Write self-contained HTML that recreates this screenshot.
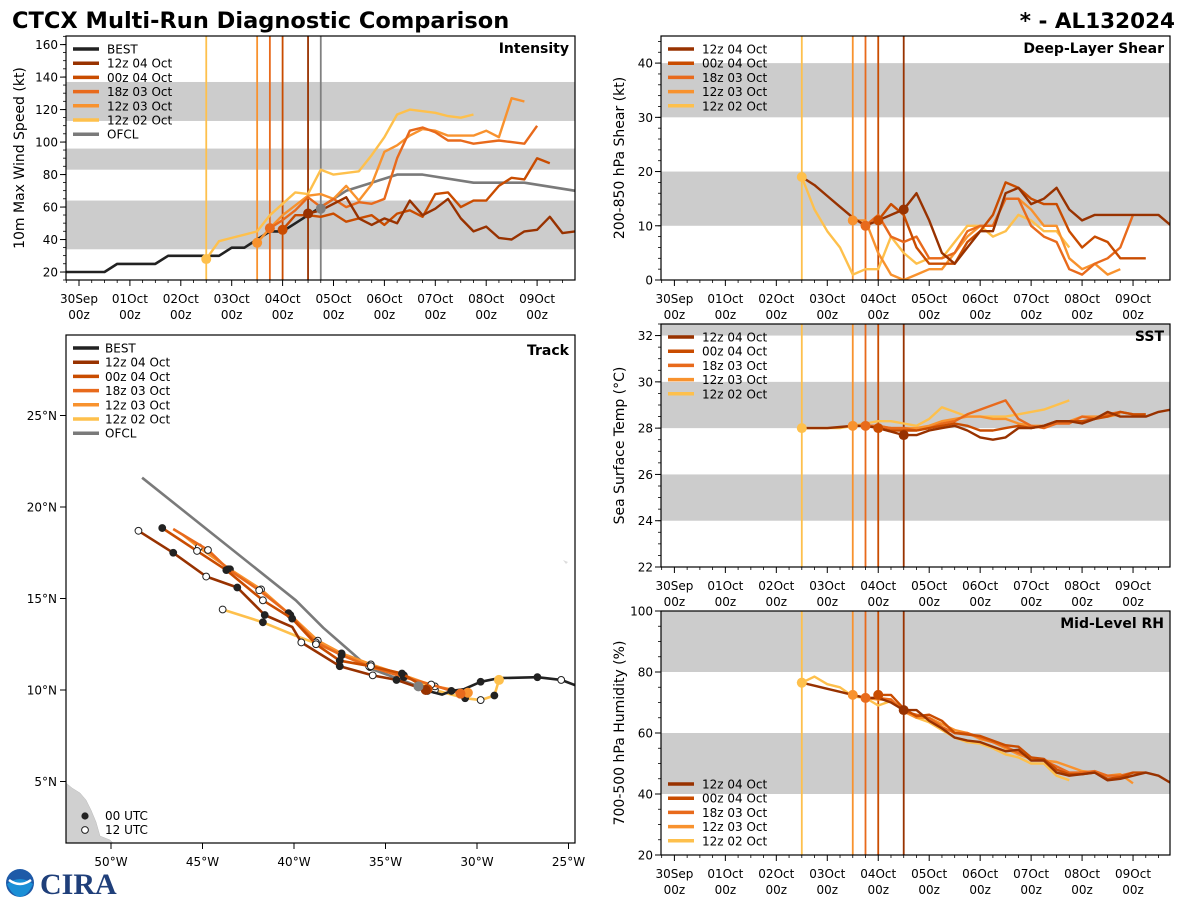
<!DOCTYPE html>
<html><head><meta charset="utf-8">
<style>
html,body{margin:0;padding:0;background:#fff;}
svg{display:block;font-family:"DejaVu Sans","Liberation Sans",sans-serif;}
</style></head>
<body>
<svg id="fig" width="1200" height="900" viewBox="0 0 1200 900" xmlns="http://www.w3.org/2000/svg">
<text x="12" y="28" font-size="22.5" font-weight="bold">CTCX Multi-Run Diagnostic Comparison</text>
<text x="1175" y="28" font-size="21.5" font-weight="bold" text-anchor="end">* - AL132024</text>
<g>
<circle cx="20" cy="883" r="14" fill="#1e5aa8"/>
<path d="M7,884 Q20,874 33,884 Q28,896 20,897 Q12,896 7,884Z" fill="#1a8fd6"/>
<path d="M9,880 Q20,888 31,880" stroke="#fff" stroke-width="2.5" fill="none"/>
</g>
<text x="40" y="894" font-size="30" font-weight="bold" font-family="Liberation Serif,serif" fill="#1f3f7a">CIRA</text>
<g id="plots"></g>
</svg>
<script>
// ---------- shared data ----------
const runLabels = ['12z 04 Oct','00z 04 Oct','18z 03 Oct','12z 03 Oct','12z 02 Oct'];
const runColors = ['#983200','#c94c00','#e86a1c','#f8922e','#fec04c'];
const runInit = [4.5, 4.0, 3.75, 3.5, 2.5];
const dayLabels = ['30Sep','01Oct','02Oct','03Oct','04Oct','05Oct','06Oct','07Oct','08Oct','09Oct'];

// Intensity (kt), 6-hourly from start
const bestStart = -0.25;
const bestIntensity = [20,20,20,20,25,25,25,25,30,30,30,30,30,35,35,40,45,45,50,55,60];
const ofclTimes = [4.75,5.25,5.75,6.25,6.75,7.75,8.75,9.75];
const ofclIntensity = [60,70,75,80,80,75,75,70];
const intStart = [4.5,4.0,3.75,3.5,2.5];
const int12z04 = [56,58,62,66,53,49,53,50,64,55,59,65,53,45,48,41,40,45,46,54,44,45];
const int00z04 = [46,55,55,54,56,51,53,55,49,56,58,54,68,69,60,64,64,73,78,77,90,87];
const int18z03 = [47,52,58,66,60,65,60,63,62,65,90,107,109,106,101,101,99,100,101,100,99,110];
const int12z03 = [38,47,55,61,67,68,65,73,64,74,94,98,104,108,107,104,104,104,107,103,127,125];
const int12z02 = [28,39,41,43,45,55,62,69,68,83,80,81,82,92,103,117,120,119,118,116,115,117];

// Shear (kt)
const shrStart = [2.5,4.0,3.75,3.5,2.5];
const shr12z04 = [19,17.5,15.5,13.5,11.5,10,11,12,13,16,11,5,3,6,9,9,16,17,14,15,17,13,11,12,12,12,12,12,12,10];
const shr00z04 = [11,14,12,6,3,3,3,7,9,12,18,17,15,14,14,9,6,8,7,4,4,4];
const shr18z03 = [10,12,8,7,8,4,4,5,9,10,10,15,15,10,8,7,2,1,3,4,6,12];
const shr12z03 = [11,11,5,1,0,1,2,2,5,8,10,10,15,15,13,10,10,4,2,3,1,2];
const shr12z02 = [19,13,9,6,1,2,2,8,5,3,4,4,7,10,10,8,9,12,11,9,9,6];

// SST (C)
const sstStart = [2.5,4.0,3.75,3.5,2.5];
const sst12z04 = [28,28,28,28.05,28.1,28.1,28.0,27.85,27.7,27.7,27.9,28.0,28.1,27.9,27.6,27.5,27.6,28.0,28.0,28.1,28.3,28.3,28.2,28.4,28.7,28.5,28.5,28.5,28.7,28.8];
const sst00z04 = [28.0,27.9,27.9,27.9,28.0,28.1,28.2,28.1,27.9,27.9,28.0,28.1,28.0,28.1,28.3,28.3,28.3,28.4,28.5,28.7,28.6,28.6];
const sst18z03 = [28.1,28.1,28.0,28.0,27.9,28.0,28.2,28.3,28.6,28.8,29.0,29.2,28.4,28.1,28.0,28.2,28.2,28.5,28.4,28.6,28.7,28.6];
const sst12z03 = [28.1,28.1,28.1,28.0,28.0,28.0,28.1,28.3,28.4,28.5,28.5,28.4,28.4,28.2,28.1,28.1,28.2,28.3,28.5,28.5,28.5,28.6];
const sst12z02 = [28,28,28,28,28.1,28.2,28.3,28.3,28.2,28.1,28.4,28.9,28.7,28.5,28.5,28.5,28.5,28.6,28.7,28.8,29.0,29.2];

// Mid-level RH (%)
const rhStart = [2.5,4.0,3.75,3.5,2.5];
const rh12z04 = [76.5,75.5,74.5,73.5,72.5,71.5,71.5,70,67.5,67.5,64,61.5,58.5,57.5,57,55.5,54,54.5,51,51,47,46,46.5,47,44.5,45,46,47,46,43.5];
const rh00z04 = [72.5,72.5,68,65.5,66,64,60,59.5,59,57.5,56,55.5,52,51.5,48,46.5,46.5,47,45,45.5,47,47];
const rh18z03 = [71.5,71.5,71,67,66,65,62,60,60,58.5,57,55.5,53.5,52,51,49,47,47,47.5,46,46,47];
const rh12z03 = [72.5,71.5,71,71,67,65,65,63,61,60,58,57,55,53,51.5,51,50.5,49,47.5,47,46,46.5,43.5];
const rh12z02 = [76.5,78.5,76,75,72,71.5,69,70.5,68,65,63.5,61,58.5,57,56.5,55,53,52,50,50,46,44.5];

// Track [lon, lat] (west negative); markers: f=00 UTC, o=12 UTC, n=none
const bestLon = [-24.6,-25.4,-26.7,-28.8,-29.8,-30.7,-31.4,-31.9,-32.7,-33.3];
const bestLat = [10.25,10.55,10.7,10.65,10.45,10.05,9.95,9.75,9.95,10.2];
const bestMk = ['n','o','f','n','f','n','f','n','o','n'];
const ofclLon = [-33.2,-35.9,-36.8,-38.4,-39.9,-48.3];
const ofclLat = [10.2,11.2,12.0,13.4,14.9,21.6];
const trk12z04Lon = [-32.8,-34.4,-35.7,-37.5,-39.6,-40.1,-41.6,-43.1,-44.8,-46.6,-48.5];
const trk12z04Lat = [10.0,10.55,10.8,11.3,12.6,13.45,14.1,15.6,16.2,17.5,18.7];
const trk12z04Mk = ['n','f','o','f','o','n','f','f','o','f','o'];
const trk00z04Lon = [-32.7,-34.1,-35.8,-37.5,-38.8,-40.1,-41.7,-43.7,-45.3,-47.2];
const trk00z04Lat = [10.05,10.9,11.3,11.6,12.5,13.9,14.9,16.55,17.6,18.85];
const trk00z04Mk = ['n','f','o','f','o','f','o','f','o','f'];
const trk18z03Lon = [-30.9,-32.5,-34.0,-35.9,-37.4,-38.8,-40.3,-41.9,-43.6,-44.7,-46.6];
const trk18z03Lat = [9.8,10.3,10.7,11.3,11.9,12.6,14.2,15.45,16.6,17.65,18.8];
const trk18z03Mk = ['n','o','f','o','f','o','f','o','f','o','n'];
const trk12z03Lon = [-30.5,-32.3,-34.0,-35.8,-37.4,-38.7,-40.2,-41.8,-43.5,-45.2,-46.1];
const trk12z03Lat = [9.85,10.2,10.8,11.4,12.0,12.7,14.1,15.5,16.6,17.8,18.5];
const trk12z03Mk = ['n','o','f','o','f','o','f','o','f','o','n'];
const trk12z02Lon = [-28.8,-29.05,-29.8,-30.65,-32.3,-34.0,-35.85,-38.8,-40.0,-41.7,-43.9];
const trk12z02Lat = [10.55,9.7,9.45,9.55,10.0,10.8,11.25,12.55,13.0,13.7,14.4];
const trk12z02Mk = ['n','f','o','f','o','f','o','o','n','f','o'];

// ---------- drawing ----------
const NS = 'http://www.w3.org/2000/svg';
const root = document.getElementById('plots');
function mk(tag, attrs, parent) {
  const e = document.createElementNS(NS, tag);
  for (const k in attrs) e.setAttribute(k, attrs[k]);
  (parent || root).appendChild(e);
  return e;
}
function txt(s, attrs, parent) { const e = mk('text', attrs, parent); e.textContent = s; return e; }

const intSeries = [int12z04,int00z04,int18z03,int12z03,int12z02];
const shrSeries = [shr12z04,shr00z04,shr18z03,shr12z03,shr12z02];
const sstSeries = [sst12z04,sst00z04,sst18z03,sst12z03,sst12z02];
const rhSeries = [rh12z04,rh00z04,rh18z03,rh12z03,rh12z02];

function timePanel(cfg) {
  const g = mk('g', {});
  
  
  const L = cfg.L, R = cfg.R, T = cfg.T, B = cfg.B;
  const X = t => cfg.x0 + t * cfg.dx;
  const Y = v => B - (v - cfg.ymin) / (cfg.ymax - cfg.ymin) * (B - T);
  const clip = 'clip-' + cfg.name;
  const cp = mk('clipPath', {id: clip}, g);
  mk('rect', {x: L, y: T, width: R - L, height: B - T}, cp);
  const inner = mk('g', {'clip-path': 'url(#' + clip + ')'}, g);
  cfg.bands.forEach(b => {
    const r = mk('rect', {x: L, y: Y(b[1]), width: R - L, height: Y(b[0]) - Y(b[1]), fill: '#cccccc'}, inner);
    
    
  });
  cfg.vlines.forEach(v => {
    const l = mk('line', {x1: X(v.t), x2: X(v.t), y1: T, y2: B, stroke: v.c, 'stroke-width': 1.8}, inner);
    
    
  });
  const drawLine = (times, vals, color, w, nm) => {
    const d = vals.map((v, i) => (i ? 'L' : 'M') + X(times[i]).toFixed(1) + ',' + Y(v).toFixed(1)).join('');
    const p = mk('path', {d: d, stroke: color, 'stroke-width': w, fill: 'none', 'stroke-linejoin': 'round'}, inner);
    
    
  };
  (cfg.extra || []).forEach(s => drawLine(s.times, s.vals, s.c, 2.6, s.n));
  for (let k = 4; k >= 0; k--) {
    const vals = cfg.series[k];
    const times = vals.map((v, i) => cfg.starts[k] + i * 0.25);
    drawLine(times, vals, runColors[k], 2.4, cfg.name + '-series-' + runLabels[k].replace(/ /g, '-').toLowerCase());
  }
  for (let k = 4; k >= 0; k--) {
    const idx = Math.round((runInit[k] - cfg.starts[k]) / 0.25);
    const c = mk('circle', {cx: X(runInit[k]), cy: Y(cfg.series[k][idx]), r: 5, fill: runColors[k]}, inner);
    
    
  }
  (cfg.extraDots || []).forEach(d0 => {
    const c = mk('circle', {cx: X(d0.t), cy: Y(d0.v), r: 5, fill: d0.c}, inner);
    
    
  });
  mk('rect', {x: L, y: T, width: R - L, height: B - T, fill: 'none', stroke: '#000', 'stroke-width': 1.2}, g);
  for (let i = 0; i < 10; i++) {
    const x = X(i);
    mk('line', {x1: x, x2: x, y1: B, y2: B + 6, stroke: '#000', 'stroke-width': 1}, g);
    const t1 = txt(dayLabels[i], {x: x, y: B + 23, 'font-size': 12, 'text-anchor': 'middle'}, g);
    
    
    txt('00z', {x: x, y: B + 39, 'font-size': 12, 'text-anchor': 'middle'}, g);
  }
  for (let q = -1; q < 40; q++) {
    const x = X(q * 0.25);
    if (x < L || x > R || q % 4 === 0) continue;
    mk('line', {x1: x, x2: x, y1: B, y2: B + 3, stroke: '#000', 'stroke-width': 0.8}, g);
  }
  cfg.yticks.forEach(v => {
    const y = Y(v);
    mk('line', {x1: L - 6, x2: L, y1: y, y2: y, stroke: '#000', 'stroke-width': 1}, g);
    const t1 = txt(String(v), {x: L - 8, y: y + 4.5, 'font-size': 12, 'text-anchor': 'end'}, g);
    
    
  });
  for (let v = cfg.ymin; v <= cfg.ymax; v += cfg.minor) {
    mk('line', {x1: L - 3, x2: L, y1: Y(v), y2: Y(v), stroke: '#000', 'stroke-width': 0.8}, g);
  }
  const yl = txt(cfg.ylabel, {x: 0, y: 0, 'font-size': 14, 'text-anchor': 'middle', transform: 'translate(' + cfg.ylx + ',' + ((T + B) / 2) + ') rotate(-90)'}, g);
  
  
  const tt = txt(cfg.title, {x: R - 6, y: T + 17, 'font-size': 14, 'font-weight': 'bold', 'text-anchor': 'end'}, g);
  
  
  cfg.legend.forEach((it, i) => {
    const y = cfg.legY + i * 14.2;
    mk('line', {x1: L + 7, x2: L + 33, y1: y, y2: y, stroke: it.c, 'stroke-width': 3.5}, g);
    const lt = txt(it.l, {x: L + 41, y: y + 4.5, 'font-size': 12}, g);
    
    
  });
}

const runLegend = runLabels.map((l, i) => ({l: l, c: runColors[i]}));
const runVlines = runInit.map((t, i) => ({t: t, c: runColors[i]}));

timePanel({name: 'intensity', L: 66, R: 575, T: 36, B: 280, x0: 79, dx: 50.9, ymin: 15.1, ymax: 165.3,
  yticks: [20,40,60,80,100,120,140,160], minor: 5, bands: [[34,64],[83,96],[113,137]],
  series: intSeries, starts: intStart, vlines: runVlines.concat([{t: 4.75, c: '#808080'}]),
  extra: [{times: bestIntensity.map((v, i) => bestStart + i * 0.25), vals: bestIntensity, c: '#222', n: 'best-intensity-line'},
          {times: ofclTimes, vals: ofclIntensity, c: '#7a7a7a', n: 'ofcl-intensity-line'}],
  extraDots: [{t: 4.75, v: 59, c: '#808080'}],
  ylabel: '10m Max Wind Speed (kt)', ylx: 24, title: 'Intensity',
  legY: 49, legend: [{l: 'BEST', c: '#222'}].concat(runLegend, [{l: 'OFCL', c: '#7a7a7a'}])});

timePanel({name: 'shear', L: 661, R: 1170, T: 36, B: 280, x0: 674.4, dx: 50.96, ymin: 0, ymax: 45,
  yticks: [0,10,20,30,40], minor: 2, bands: [[10,20],[30,40]],
  series: shrSeries, starts: shrStart, vlines: runVlines,
  ylabel: '200-850 hPa Shear (kt)', ylx: 624, title: 'Deep-Layer Shear', legY: 49, legend: runLegend});

timePanel({name: 'sst', L: 661, R: 1170, T: 324, B: 567, x0: 674.4, dx: 50.96, ymin: 22, ymax: 32.5,
  yticks: [22,24,26,28,30,32], minor: 0.5, bands: [[24,26],[28,30],[32,33]],
  series: sstSeries, starts: sstStart, vlines: runVlines,
  ylabel: 'Sea Surface Temp (°C)', ylx: 624, title: 'SST', legY: 337, legend: runLegend});

timePanel({name: 'rh', L: 661, R: 1170, T: 611, B: 855, x0: 674.4, dx: 50.96, ymin: 20, ymax: 100,
  yticks: [20,40,60,80,100], minor: 5, bands: [[40,60],[80,100]],
  series: rhSeries, starts: rhStart, vlines: runVlines,
  ylabel: '700-500 hPa Humidity (%)', ylx: 624, title: 'Mid-Level RH', legY: 784, legend: runLegend});

// ---------- track panel ----------
(function () {
  const g = mk('g', {});
  
  
  const L = 66, R = 575, T = 335, B = 843;
  const X = lon => 111 + (lon + 50) * 18.3;
  const Y = lat => 690 - (lat - 10) * 18.3;
  const cp = mk('clipPath', {id: 'clip-track'}, g);
  mk('rect', {x: L, y: T, width: R - L, height: B - T}, cp);
  const inner = mk('g', {'clip-path': 'url(#clip-track)'}, g);
  const land = mk('path', {d: 'M66,783 L72,788 L80,793 L86,800 L91,810 L96,822 L100,836 L110,840 L113,843 L66,843Z', fill: '#d0d0d0', stroke: '#bbb', 'stroke-width': 0.5}, inner);
  
  
  mk('path', {d: 'M563,560 l5,2 l-2,2z', fill: '#ddd'}, inner);
  const drawTrack = (lons, lats, mks, color, nm) => {
    const d = lons.map((v, i) => (i ? 'L' : 'M') + X(v).toFixed(1) + ',' + Y(lats[i]).toFixed(1)).join('');
    const p = mk('path', {d: d, stroke: color, 'stroke-width': 2.6, fill: 'none', 'stroke-linejoin': 'round'}, inner);
    
    
    if (!mks) return;
    mks.forEach((m, i) => {
      if (m === 'n') return;
      const c = mk('circle', {cx: X(lons[i]), cy: Y(lats[i]), r: 3.4, fill: m === 'f' ? '#222' : '#fff', stroke: '#222', 'stroke-width': 1}, inner);
      
      
    });
  };
  drawTrack(ofclLon, ofclLat, null, '#7a7a7a', 'ofcl-track');
  drawTrack(trk12z02Lon, trk12z02Lat, trk12z02Mk, runColors[4], 'track-12z-02-oct');
  drawTrack(trk12z03Lon, trk12z03Lat, trk12z03Mk, runColors[3], 'track-12z-03-oct');
  drawTrack(trk18z03Lon, trk18z03Lat, trk18z03Mk, runColors[2], 'track-18z-03-oct');
  drawTrack(trk00z04Lon, trk00z04Lat, trk00z04Mk, runColors[1], 'track-00z-04-oct');
  drawTrack(trk12z04Lon, trk12z04Lat, trk12z04Mk, runColors[0], 'track-12z-04-oct');
  drawTrack(bestLon, bestLat, bestMk, '#222', 'best-track');
  const initLons = [trk12z04Lon[0], trk00z04Lon[0], trk18z03Lon[0], trk12z03Lon[0], trk12z02Lon[0]];
  const initLats = [trk12z04Lat[0], trk00z04Lat[0], trk18z03Lat[0], trk12z03Lat[0], trk12z02Lat[0]];
  for (let k = 4; k >= 0; k--) {
    const c = mk('circle', {cx: X(initLons[k]), cy: Y(initLats[k]), r: 5, fill: runColors[k]}, inner);
    
    
  }
  mk('circle', {cx: X(ofclLon[0]), cy: Y(ofclLat[0]), r: 5, fill: '#808080'}, inner);
  mk('rect', {x: L, y: T, width: R - L, height: B - T, fill: 'none', stroke: '#000', 'stroke-width': 1.2}, g);
  const lonTicks = [-50,-45,-40,-35,-30,-25];
  lonTicks.forEach(lon => {
    const x = X(lon);
    mk('line', {x1: x, x2: x, y1: B, y2: B + 6, stroke: '#000'}, g);
    const t1 = txt(Math.abs(lon) + '°W', {x: x, y: B + 23, 'font-size': 12, 'text-anchor': 'middle'}, g);
    
    
  });
  const latTicks = [5,10,15,20,25];
  latTicks.forEach(lat => {
    const y = Y(lat);
    mk('line', {x1: L - 6, x2: L, y1: y, y2: y, stroke: '#000'}, g);
    const t1 = txt(lat + '°N', {x: L - 9, y: y + 4.5, 'font-size': 12, 'text-anchor': 'end'}, g);
    
    
  });
  const tt = txt('Track', {x: R - 6, y: T + 20, 'font-size': 14, 'font-weight': 'bold', 'text-anchor': 'end'}, g);
  
  
  const leg = [{l: 'BEST', c: '#222'}].concat(runLegend, [{l: 'OFCL', c: '#7a7a7a'}]);
  leg.forEach((it, i) => {
    const y = 348 + i * 14.2;
    mk('line', {x1: 73, x2: 99, y1: y, y2: y, stroke: it.c, 'stroke-width': 3.5}, g);
    const lt = txt(it.l, {x: 105, y: y + 4.5, 'font-size': 12}, g);
    
    
  });
  mk('circle', {cx: 85, cy: 816, r: 3.6, fill: '#222'}, g);
  const a = txt('00 UTC', {x: 105, y: 820, 'font-size': 12}, g);
  
  
  mk('circle', {cx: 85, cy: 830, r: 3.4, fill: '#fff', stroke: '#222', 'stroke-width': 1}, g);
  const b = txt('12 UTC', {x: 105, y: 834, 'font-size': 12}, g);
  
  
})();
</script>
</body></html>
